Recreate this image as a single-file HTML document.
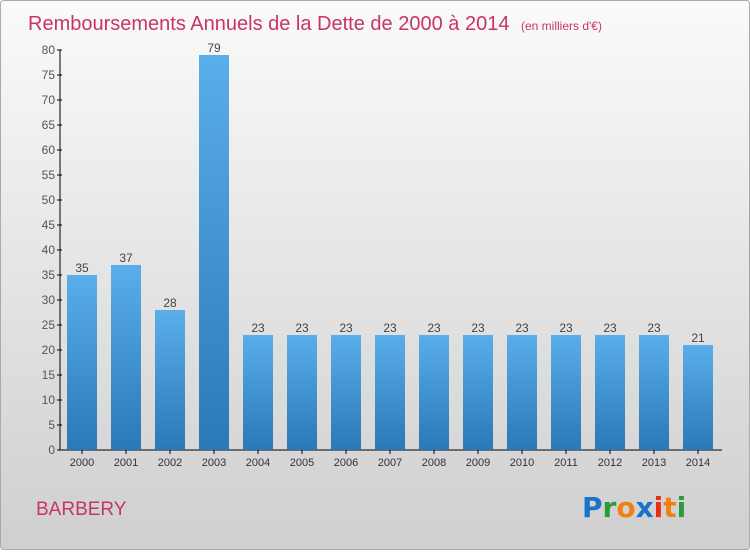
<!DOCTYPE html>
<html><head><meta charset="utf-8"><style>
body{margin:0}
#c{width:750px;height:550px;position:relative;font-family:"Liberation Sans",sans-serif}
</style></head><body>
<div id="c">
<svg id="s" width="750" height="550" xmlns="http://www.w3.org/2000/svg">
<defs>
<linearGradient id="bg" x1="0" y1="0" x2="0" y2="1"><stop offset="0" stop-color="#fafafa"/><stop offset="1" stop-color="#cfcfcf"/></linearGradient>
<linearGradient id="bar" x1="0" y1="0" x2="0" y2="1"><stop offset="0" stop-color="#5aaeea"/><stop offset="1" stop-color="#2a78b8"/></linearGradient>
</defs>
<rect x="0.5" y="0.5" width="749" height="549" rx="3" fill="url(#bg)" stroke="#aaa"/>
<text x="28" y="30" font-size="20" fill="#c8336b">Remboursements Annuels de la Dette de 2000 à 2014 <tspan font-size="12" dx="6">(en milliers d'€)</tspan></text>
<text x="36" y="515" font-size="19" fill="#c8336b">BARBERY</text>
<g font-size="28" font-weight="bold" font-family="'DejaVu Sans',sans-serif">
<text x="582" y="517"><tspan fill="#1a73c8">P</tspan><tspan fill="#2a9a3a">r</tspan><tspan fill="#f08010">o</tspan><tspan fill="#1a73c8">x</tspan><tspan fill="#e83010">i</tspan><tspan fill="#f08010">t</tspan><tspan fill="#2a9a3a">i</tspan></text>
</g>
<g id="axes"></g>
<g id="bars"></g>
</svg>
</div>
<script>
const categories=["2000","2001","2002","2003","2004","2005","2006","2007","2008","2009","2010","2011","2012","2013","2014"];
const values=[35,37,28,79,23,23,23,23,23,23,23,23,23,23,21];
const yTicks=[0,5,10,15,20,25,30,35,40,45,50,55,60,65,70,75,80];
const NS="http://www.w3.org/2000/svg";
const y0=450,yTop=50,yMax=80,x0=60,step=44,firstC=82,bw=30;
const yS=v=>y0-(v/yMax)*(y0-yTop);
const xS=i=>firstC+i*step;
function mk(t,a,p){const e=document.createElementNS(NS,t);for(const k in a)e.setAttribute(k,a[k]);p.appendChild(e);return e;}
const ax=document.getElementById('axes'),bars=document.getElementById('bars');
let l=mk('line',{x1:x0,y1:yTop,x2:x0,y2:y0,stroke:'#000'},ax);


l=mk('line',{x1:x0,y1:y0,x2:722,y2:y0,stroke:'#000'},ax);


yTicks.forEach(v=>{
 const y=yS(v);
 mk('line',{x1:x0-3,y1:y,x2:x0+2,y2:y,stroke:'#000'},ax);
 const t=mk('text',{x:x0-5,y:y+4,'font-size':12,'text-anchor':'end',fill:'#555'},ax);
 t.textContent=v;
 
 
});
categories.forEach((c,i)=>{
 const x=xS(i),v=values[i];
 const r=mk('rect',{x:x-bw/2,y:yS(v),width:bw,height:y0-yS(v),fill:'url(#bar)'},bars);
 
 
 mk('line',{x1:x,y1:y0,x2:x,y2:y0+4,stroke:'#000'},ax);
 const t=mk('text',{x:x,y:y0+16,'font-size':11,'text-anchor':'middle',fill:'#333'},ax);
 t.textContent=c;
 
 
 const vl=mk('text',{x:x,y:yS(v)-3,'font-size':12,'text-anchor':'middle',fill:'#444'},bars);
 vl.textContent=v;
 
 
});
</script>
</body></html>
